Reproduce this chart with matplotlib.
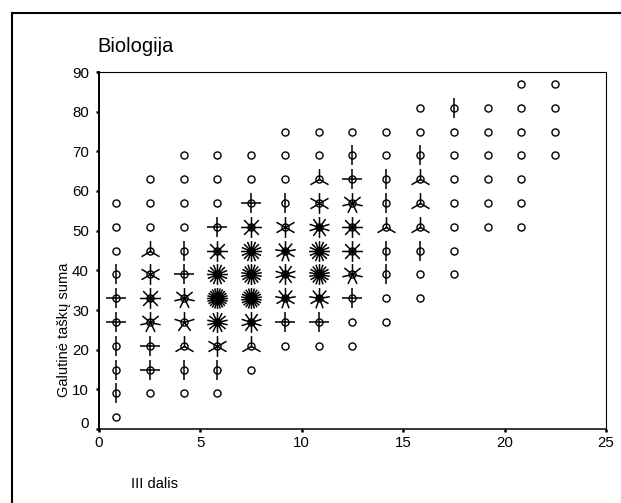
import matplotlib
matplotlib.use('Agg')
import matplotlib.pyplot as plt
from matplotlib.path import Path
from matplotlib.lines import Line2D
from matplotlib.transforms import ScaledTranslation
import numpy as np

plt.rcParams['font.family'] = ['Liberation Sans', 'DejaVu Sans']

# ---- data ----
x_centers = [0.83, 2.50, 4.17, 5.83, 7.50, 9.17, 10.83, 12.50, 14.17, 15.83, 17.50, 19.17, 20.83, 22.50]
y_centers = [87, 81, 75, 69, 63, 57, 51, 45, 39, 33, 27, 21, 15, 9, 3]
# number of cases per cell (rows follow y_centers, columns follow x_centers)
counts = [
    [0, 0, 0, 0, 0, 0, 0, 0, 0, 0, 0, 0, 1, 1],   # 87
    [0, 0, 0, 0, 0, 0, 0, 0, 0, 1, 2, 1, 1, 1],   # 81
    [0, 0, 0, 0, 0, 1, 1, 1, 1, 1, 1, 1, 1, 1],   # 75
    [0, 0, 1, 1, 1, 1, 1, 2, 1, 2, 1, 1, 1, 1],   # 69
    [0, 1, 1, 1, 1, 1, 3, 4, 2, 3, 1, 1, 1, 0],   # 63
    [1, 1, 1, 1, 4, 2, 6, 7, 2, 3, 1, 1, 1, 0],   # 57
    [1, 1, 1, 4, 8, 6, 10, 8, 3, 3, 1, 1, 1, 0],  # 51
    [1, 3, 2, 8, 16, 9, 16, 8, 2, 2, 1, 0, 0, 0], # 45
    [2, 6, 4, 16, 18, 10, 18, 7, 2, 1, 1, 0, 0, 0], # 39
    [4, 8, 7, 24, 22, 9, 9, 4, 1, 1, 0, 0, 0, 0], # 33
    [4, 7, 5, 14, 10, 4, 4, 1, 1, 0, 0, 0, 0, 0], # 27
    [2, 4, 3, 6, 3, 1, 1, 1, 0, 0, 0, 0, 0, 0],   # 21
    [2, 4, 2, 2, 1, 0, 0, 0, 0, 0, 0, 0, 0, 0],   # 15
    [2, 1, 1, 1, 0, 0, 0, 0, 0, 0, 0, 0, 0, 0],   # 9
    [1, 0, 0, 0, 0, 0, 0, 0, 0, 0, 0, 0, 0, 0],   # 3
]
x_ticks = [0, 5, 10, 15, 20, 25]
y_ticks = [0, 10, 20, 30, 40, 50, 60, 70, 80, 90]
title = "Biologija"
x_label = "III dalis"
y_label = "Galutinė taškų suma"

W, H = 621, 503
fig = plt.figure(figsize=(W / 100, H / 100), dpi=100)
ax = fig.add_axes([99 / W, 1 - 429 / H, (606 - 99) / W, (429 - 72) / H])
ax.set_xlim(0, 25)
ax.set_ylim(0, 90)


def petal_marker(n):
    verts, codes = [], []
    for i in range(n):
        a = np.deg2rad(90 + 360.0 * i / n)
        verts += [(0, 0), (np.cos(a), np.sin(a))]
        codes += [Path.MOVETO, Path.LINETO]
    return Path(verts, codes)


for r, yv in enumerate(y_centers):
    for c, xv in enumerate(x_centers):
        n = counts[r][c]
        if n <= 0:
            continue
        ax.plot([xv], [yv], marker='o', markersize=5.1, mfc='white', mec='black',
                mew=1.0, linestyle='none', zorder=3)
        if n >= 2:
            ax.plot([xv], [yv], marker=petal_marker(n), markersize=15.0, mec='black',
                    mew=1.1, linestyle='none', zorder=4)

ax.set_xticks(x_ticks)
ax.set_yticks(y_ticks)
ax.tick_params(direction='out', length=2.2, width=1.8, labelsize=10.8, color='black')
ax.tick_params(axis='y', pad=5.0)
ax.tick_params(axis='x', pad=3.0)
ax.spines['left'].set_linewidth(1.4)
ax.spines['bottom'].set_linewidth(1.1)
ax.spines['top'].set_linewidth(0.8)
ax.spines['right'].set_linewidth(0.8)

# the y "0" label sits slightly above its tick
t0 = ax.yaxis.get_major_ticks()[0]
t0.label1.set_transform(t0.label1.get_transform() + ScaledTranslation(0, 7 / 100, fig.dpi_scale_trans))

fig.text(97 / W, 1 - 47 / H, title, fontsize=14.5, ha='left', va='center')
fig.text(131 / W, 1 - 484 / H, x_label, fontsize=10.5, ha='left', va='center')
fig.text(64 / W, 1 - 330 / H, y_label, fontsize=10.5, ha='center', va='center', rotation=90)

# outer frame (left and top only)
fig.add_artist(Line2D([11.5 / W, 11.5 / W], [0, 1 - 13 / H], transform=fig.transFigure,
                      color='black', lw=1.5))
fig.add_artist(Line2D([11.5 / W, 1], [1 - 13 / H, 1 - 13 / H], transform=fig.transFigure,
                      color='black', lw=1.5))

fig.savefig('out.png', dpi=100)
